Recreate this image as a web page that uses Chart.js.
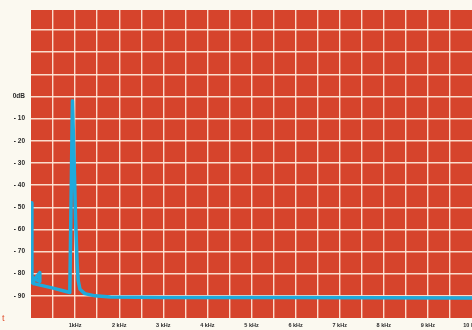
<!DOCTYPE html>
<html><head><meta charset="utf-8">
<script src="https://cdn.jsdelivr.net/npm/chart.js@4/dist/chart.umd.min.js"></script>
<style>
html,body{margin:0;padding:0;background:#fbf9f0;}
#wrap{width:472px;height:330px;position:relative;}
</style></head>
<body><div id="wrap"><canvas id="c" width="472" height="330"></canvas></div>
<script>
// frequency in kHz
const freqKHz = [0, 0.02, 0.2, 0.2, 0.06, 0.06, 0.5, 0.88, 0.94, 0.985, 1.01, 1.045, 1.07, 1.11, 1.22, 1.45, 1.8, 3, 6, 10];
// level in dB
const levelDB = [-48, -84, -79.5, -83.5, -82, -84.5, -86.5, -88.5, -2, -35, -55, -75, -83, -87, -89, -90, -90.5, -90.7, -90.8, -91];
const yTickLabels = {0:'0dB', '-10':'- 10', '-20':'- 20', '-30':'- 30', '-40':'- 40', '-50':'- 50', '-60':'- 60', '-70':'- 70', '-80':'- 80', '-90':'- 90'};
const xTickLabels = ['', '1kHz', '2 kHz', '3 kHz', '4 kHz', '5 kHz', '6 kHz', '7 kHz', '8 kHz', '9 kHz', '10 kHz'];

const points = freqKHz.map((f, i) => ({x: f, y: levelDB[i]}));

const bgPlugin = {
  id: 'plotbg',
  beforeDraw(chart) {
    const {ctx, chartArea: a} = chart;
    ctx.save();
    ctx.fillStyle = '#d6442c';
    ctx.fillRect(a.left, a.top, a.right - a.left, a.bottom - a.top);
    ctx.restore();
  },
  afterDraw(chart) {
    const ctx = chart.ctx;
    ctx.save();
    ctx.fillStyle = '#e0502e';
    ctx.font = '9px "Liberation Sans", sans-serif';
    ctx.fillText('t', 2, 321);
    ctx.restore();
  }
};

new Chart(document.getElementById('c'), {
  type: 'line',
  data: {
    datasets: [{
      data: points,
      borderColor: '#1eaadc',
      borderWidth: 3.5,
      pointRadius: 0,
      tension: 0,
      fill: false,
      borderJoinStyle: 'round',
      borderCapStyle: 'round'
    }]
  },
  options: {
    responsive: false,
    animation: false,
    layout: {padding: {top: 10, left: 0, right: 0, bottom: 0}},
    plugins: {legend: {display: false}, tooltip: {enabled: false}},
    scales: {
      x: {
        type: 'linear', min: 0, max: 10,
        afterBuildTicks(s) {
          const t = [];
          for (let v = 0; v <= 20; v++) t.push({value: v / 2});
          s.ticks = t;
        },
        afterFit(s) { s.height = 12; s.paddingLeft = 0; s.paddingRight = 0; },
        border: {display: false},
        grid: {
          drawTicks: false,
          color: ctx => (ctx.tick && (ctx.tick.value === 0 || ctx.tick.value === 10)) ? 'rgba(0,0,0,0)' : 'rgba(255,236,222,0.9)',
          lineWidth: 1.4
        },
        ticks: {
          autoSkip: false, maxRotation: 0, padding: 4,
          color: '#2a2a2a',
          font: {family: '"Liberation Sans", Arial, sans-serif', size: 5.5, weight: 'bold'},
          callback: v => (Number.isInteger(v) ? xTickLabels[v] : '')
        }
      },
      y: {
        type: 'linear', min: -100, max: 39,
        afterBuildTicks(s) {
          const t = [];
          for (let v = -90; v <= 30; v += 10) t.push({value: v});
          s.ticks = t;
        },
        afterFit(s) { s.width = 31; },
        border: {display: false},
        grid: {
          drawTicks: false,
          color: 'rgba(255,236,222,0.9)',
          lineWidth: 1.4
        },
        ticks: {
          padding: 6,
          color: '#2a2a2a',
          font: {family: '"Liberation Sans", Arial, sans-serif', size: 6.5, weight: 'bold'},
          callback: v => (yTickLabels[v] !== undefined ? yTickLabels[v] : '')
        }
      }
    }
  },
  plugins: [bgPlugin]
});
</script></body></html>
